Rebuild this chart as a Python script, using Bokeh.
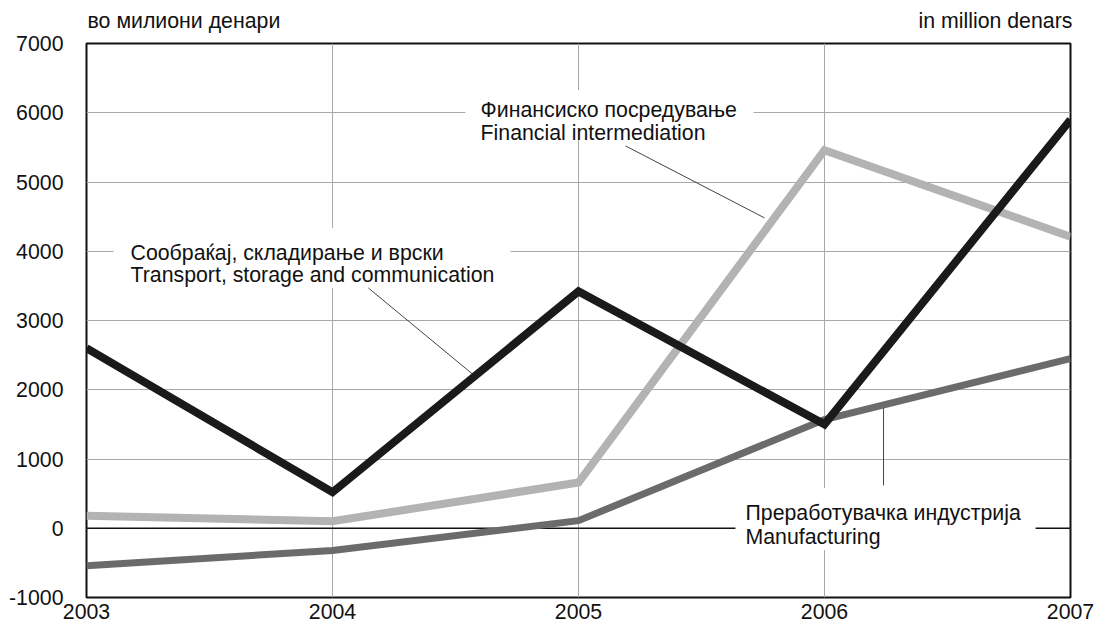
from bokeh.plotting import figure
from bokeh.models import Range1d, FixedTicker, Span, Label, ColumnDataSource, LinearAxis
from bokeh.embed import file_html
from bokeh.resources import INLINE

# ---- data ----
years = [2003, 2004, 2005, 2006, 2007]
transport = [2600, 520, 3420, 1500, 5900]
financial = [180, 100, 660, 5460, 4210]
manufacturing = [-540, -320, 110, 1570, 2450]

y_ticks = [-1000, 0, 1000, 2000, 3000, 4000, 5000, 6000, 7000]
x_ticks = [2003, 2004, 2005, 2006, 2007]

unit_left = "во милиони денари"
unit_right = "in million denars"
transport_label = ["Сообраќај, складирање и врски", "Transport, storage and communication"]
financial_label = ["Финансиско посредување", "Financial intermediation"]
manufacturing_label = ["Преработувачка индустрија", "Manufacturing"]

FONT = "Liberation Sans"
TXT = "#111111"
FS = "21.3px"

p = figure(width=1094, height=629, x_range=Range1d(2003, 2007), y_range=Range1d(-1000, 7000),
           output_backend="svg", toolbar_location=None,
           min_border_left=86, min_border_right=24, min_border_top=43, min_border_bottom=32)

p.outline_line_color = "#111111"
p.outline_line_width = 2
p.outline_line_alpha = 1.0
p.background_fill_color = "white"
p.border_fill_color = "white"

x_axis = p.below[0]
y_axis = p.left[0]

# unit captions as an extra axis above the frame
unit_axis = LinearAxis(ticker=FixedTicker(ticks=[2003.396, 2006.695]),
                       major_label_overrides={2003.396: unit_left, 2006.695: unit_right})
p.add_layout(unit_axis, "above")

for ax in (x_axis, y_axis, unit_axis):
    ax.axis_line_color = None
    ax.major_tick_line_color = None
    ax.minor_tick_line_color = None
    ax.major_tick_out = 0
    ax.major_tick_in = 0
    ax.minor_tick_out = 0
    ax.minor_tick_in = 0
    ax.major_label_text_font = FONT
    ax.major_label_text_font_size = FS
    ax.major_label_text_color = TXT

y_axis.ticker = FixedTicker(ticks=y_ticks)
y_axis.major_label_overrides = {-1000: "-1000"}
x_axis.ticker = FixedTicker(ticks=x_ticks)
y_axis.major_label_standoff = 23
x_axis.major_label_standoff = 6
unit_axis.major_label_standoff = 11

p.xgrid[0].ticker = FixedTicker(ticks=x_ticks)
p.ygrid[0].ticker = FixedTicker(ticks=y_ticks)
for g in (p.xgrid[0], p.ygrid[0]):
    g.grid_line_color = "#a8a8a8"
    g.grid_line_width = 1

zero = Span(location=0, dimension="width", line_color="#111111", line_width=1.5, level="underlay")
p.add_layout(zero)

# white masks behind the series labels (layout positions in data units)
masks = dict(left=[2003.110, 2004.540, 2005.638], right=[2004.724, 2005.711, 2006.858],
             top=[4336, 6329, 582], bottom=[3469, 5636, -314])
p.quad(source=ColumnDataSource(masks), left="left", right="right", top="top", bottom="bottom",
       fill_color="white", line_color=None)

# leader lines
leaders = dict(x0=[2004.146, 2005.191, 2006.240], y0=[3469, 5521, 1780],
               x1=[2004.573, 2005.756, 2006.240], y1=[2215, 4482, 620])
p.segment(source=ColumnDataSource(leaders), x0="x0", y0="y0", x1="x1", y1="y1",
          line_color="#444444", line_width=1)

src = ColumnDataSource(dict(year=years, transport=transport, financial=financial,
                            manufacturing=manufacturing))
p.line("year", "financial", source=src, line_color="#b3b3b3", line_width=8, line_join="miter")
p.line("year", "manufacturing", source=src, line_color="#6b6b6b", line_width=7, line_join="miter")
p.line("year", "transport", source=src, line_color="#1a1a1a", line_width=8, line_join="miter")

def add_text(txt, x, y, align="left"):
    p.add_layout(Label(x=x, y=y, text=txt, text_font=FONT, text_font_size=FS,
                       text_color=TXT, text_align=align, text_baseline="alphabetic"))

add_text(transport_label[0], 2003.179, 3975)
add_text(transport_label[1], 2003.179, 3657)
add_text(financial_label[0], 2004.602, 6040)
add_text(financial_label[1], 2004.602, 5708)
add_text(manufacturing_label[0], 2005.679, 220)
add_text(manufacturing_label[1], 2005.679, -126)

open("out.html", "w").write(file_html(p, INLINE))
